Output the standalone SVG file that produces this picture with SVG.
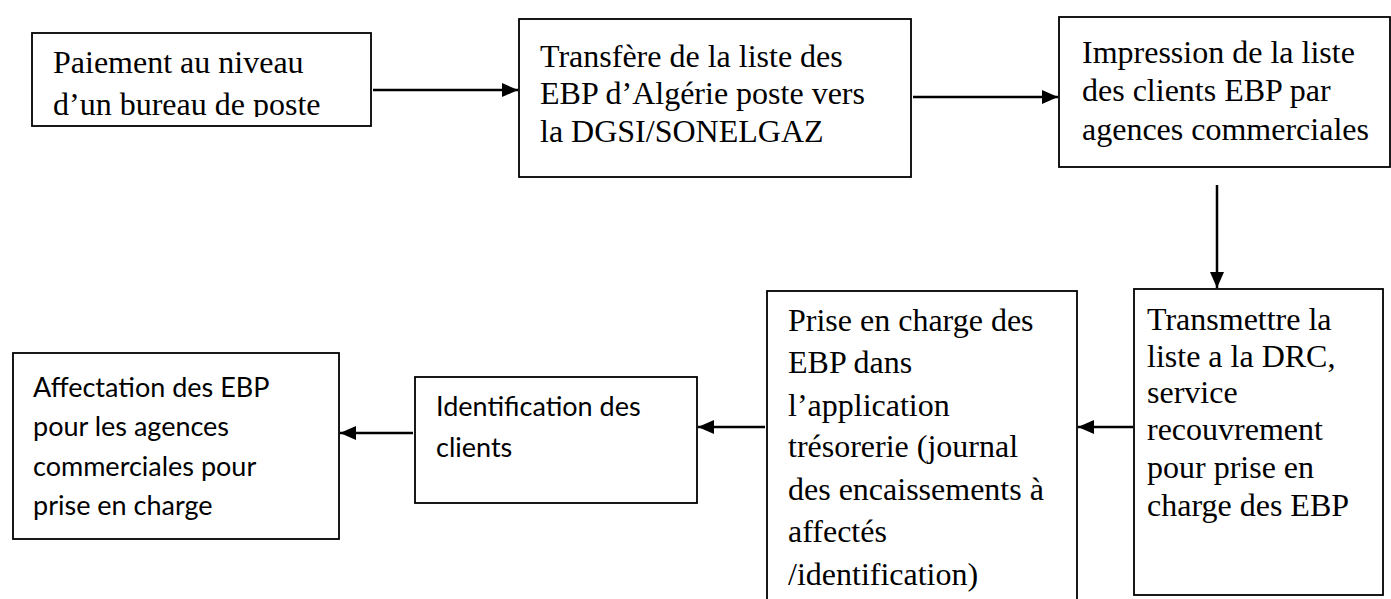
<svg xmlns="http://www.w3.org/2000/svg" width="1391" height="599" viewBox="0 0 1391 599">
  <style>
    .box { fill: #ffffff; stroke: #000000; stroke-width: 1.8; }
    .serif { font-family: "Liberation Serif", "Times New Roman", serif; font-size: 32px; fill: #000000; }
    .sans { font-family: Lato, "Liberation Sans", sans-serif; font-size: 27px; fill: #000000; }
    .link { fill: none; stroke: #000000; stroke-width: 2.5; marker-end: url(#head); }
  </style>
  <defs>
    <marker id="head" markerUnits="userSpaceOnUse" markerWidth="17" markerHeight="15" refX="16" refY="7" orient="auto">
      <path d="M0,0 L16,7 L0,14 Z" fill="#000000"/>
    </marker>
    <!-- the second line of the first box is cut off at its foot -->
    <clipPath id="clip-paiement">
      <rect x="32" y="33" width="339" height="84"/>
    </clipPath>
  </defs>

  <!-- connectors -->
  <g id="connectors">
    <line class="link" x1="373" y1="90" x2="518" y2="90"/>
    <line class="link" x1="913" y1="97" x2="1058" y2="97"/>
    <line class="link" x1="1217" y1="185" x2="1217" y2="288"/>
    <line class="link" x1="1133" y1="427" x2="1078" y2="427"/>
    <line class="link" x1="765" y1="427" x2="698" y2="427"/>
    <line class="link" x1="413" y1="433" x2="340" y2="433"/>
  </g>

  <g id="paiement">
    <rect class="box" x="32" y="33" width="339" height="93"/>
    <text class="serif" clip-path="url(#clip-paiement)">
      <tspan x="53" y="73">Paiement au niveau</tspan>
      <tspan x="53" y="115">d’un bureau de poste</tspan>
    </text>
  </g>

  <g id="transfere">
    <rect class="box" x="519" y="19" width="392" height="158"/>
    <text class="serif">
      <tspan x="540" y="67">Transfère de la liste des</tspan>
      <tspan x="540" y="104">EBP d’Algérie poste vers</tspan>
      <tspan x="540" y="142">la DGSI/SONELGAZ</tspan>
    </text>
  </g>

  <g id="impression">
    <rect class="box" x="1059" y="17" width="331" height="150"/>
    <text class="serif">
      <tspan x="1082" y="63">Impression de la liste</tspan>
      <tspan x="1082" y="101">des clients EBP par</tspan>
      <tspan x="1082" y="140">agences commerciales</tspan>
    </text>
  </g>

  <g id="transmettre">
    <rect class="box" x="1134" y="289" width="249" height="306"/>
    <text class="serif">
      <tspan x="1147" y="330">Transmettre la</tspan>
      <tspan x="1147" y="367">liste a la DRC,</tspan>
      <tspan x="1147" y="403">service</tspan>
      <tspan x="1147" y="440">recouvrement</tspan>
      <tspan x="1147" y="478">pour prise en</tspan>
      <tspan x="1147" y="516">charge des EBP</tspan>
    </text>
  </g>

  <g id="prise-en-charge">
    <rect class="box" x="767" y="291" width="310" height="330"/>
    <text class="serif">
      <tspan x="788" y="331">Prise en charge des</tspan>
      <tspan x="788" y="373">EBP dans</tspan>
      <tspan x="788" y="416">l’application</tspan>
      <tspan x="788" y="457">trésorerie (journal</tspan>
      <tspan x="788" y="500">des encaissements à</tspan>
      <tspan x="788" y="542">affectés</tspan>
      <tspan x="788" y="585">/identification)</tspan>
    </text>
  </g>

  <g id="identification">
    <rect class="box" x="415" y="377" width="282" height="126"/>
    <text class="sans">
      <tspan x="436" y="416">Identification des</tspan>
      <tspan x="436" y="457">clients</tspan>
    </text>
  </g>

  <g id="affectation">
    <rect class="box" x="13" y="353" width="326" height="186"/>
    <text class="sans">
      <tspan x="33" y="397">Affectation des EBP</tspan>
      <tspan x="33" y="436">pour les agences</tspan>
      <tspan x="33" y="476">commerciales pour</tspan>
      <tspan x="33" y="515">prise en charge</tspan>
    </text>
  </g>
</svg>
